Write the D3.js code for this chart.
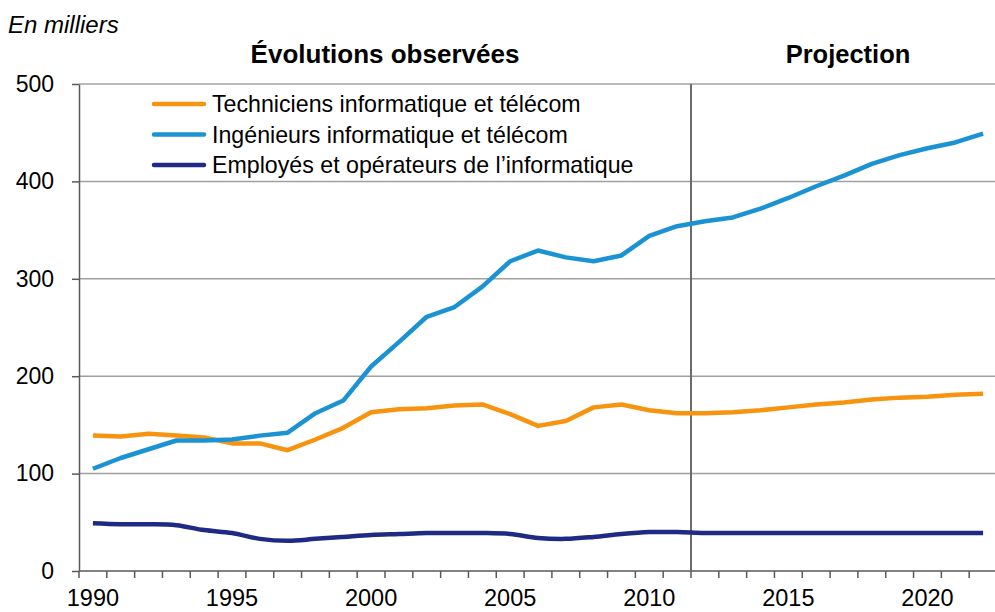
<!DOCTYPE html>
<html>
<head>
<meta charset="utf-8">
<script src="https://cdn.jsdelivr.net/npm/d3@7"></script>
<style>
  body { margin: 0; background: #ffffff; }
  text { font-family: "Liberation Sans", Arial, sans-serif; }
</style>
</head>
<body>
<script>

// years on the x axis (category axis, one slot per year)
var years = d3.range(1990, 2023)
var yearlabels = [1990, 1995, 2000, 2005, 2010, 2015, 2020]
var yticks = [0, 100, 200, 300, 400, 500]

// series, in milliers
var techniciens = [139, 138, 141, 139, 137, 131, 131, 124, 135, 147,
                   163, 166, 167, 170, 171, 161, 149, 154, 168, 171,
                   165, 162, 162, 163, 165, 168, 171, 173, 176, 178,
                   179, 181, 182]
var ingenieurs = [105, 116, 125, 134, 134, 135, 139, 142, 162, 175,
                  210, 235, 261, 271, 292, 318, 329, 322, 318, 324,
                  344, 354, 359, 363, 372, 383, 395, 406, 418, 427,
                  434, 440, 449]
var employes = [49, 48, 48, 47, 42, 39, 33, 31, 33, 35,
                37, 38, 39, 39, 39, 38, 34, 33, 35, 38,
                40, 40, 39, 39, 39, 39, 39, 39, 39, 39,
                39, 39, 39]

var seriesnames = ["Techniciens informatique et télécom", "Ingénieurs informatique et télécom", "Employés et opérateurs de l\u2019informatique"]
var seriescolors = ["#f7940f", "#1b93d3", "#1f2a85"]

// last observed year, projection starts after it
var lastobserved = 2011

window.onload = drawchart

function drawchart()
{
  var width = 995, height = 612
  var left = 79, right = 997, top = 84, bottom = 571

  var svg = d3.select("body").append("svg")
              .attr("width", width)
              .attr("height", height)

  var x = d3.scaleBand().domain(years).range([left, right]).padding(0)
  var y = d3.scaleLinear().domain([0, 500]).range([bottom, top])

  // gridlines
  svg.append("g").selectAll("line")
     .data(yticks.filter(function(d) { return d > 0 }))
     .enter().append("line")
     .attr("x1", left).attr("x2", right)
     .attr("y1", function(d) { return y(d) }).attr("y2", function(d) { return y(d) })
     .attr("stroke", "#a0a0a0").attr("stroke-width", 1.5)

  // y axis
  var yaxis = svg.append("g")
                 .attr("transform", "translate(" + left + ",0)")
                 .call(d3.axisLeft(y).tickValues(yticks).tickSize(7).tickPadding(8).tickSizeOuter(0))
  yaxis.select(".domain").attr("stroke", "#595959").attr("stroke-width", 1.5)
  yaxis.selectAll(".tick line").attr("stroke", "#595959").attr("stroke-width", 1.5)
  yaxis.selectAll(".tick text")
       .attr("font-size", "23px")
       .attr("fill", "#000")
       .style("font-family", "Liberation Sans, Arial, sans-serif")
       .attr("x", -25)

  // x axis : line + ticks between categories
  svg.append("line")
     .attr("x1", left).attr("x2", right)
     .attr("y1", bottom).attr("y2", bottom)
     .attr("stroke", "#595959").attr("stroke-width", 1.5)

  svg.append("g").selectAll("line")
     .data(years)
     .enter().append("line")
     .attr("x1", function(d) { return x(d) }).attr("x2", function(d) { return x(d) })
     .attr("y1", bottom).attr("y2", bottom + 7)
     .attr("stroke", "#595959").attr("stroke-width", 1.5)

  svg.append("g").selectAll("text")
     .data(yearlabels)
     .enter().append("text")
     .attr("x", function(d) { return x(d) + x.bandwidth() / 2 })
     .attr("y", 606)
     .attr("text-anchor", "middle")
     .attr("font-size", "23.5px")
     .text(function(d) { return d })

  // separator observed / projection
  var sep = x(lastobserved) + x.bandwidth()
  svg.append("line")
     .attr("x1", sep).attr("x2", sep)
     .attr("y1", top).attr("y2", bottom)
     .attr("stroke", "#6b6b6b").attr("stroke-width", 2)

  // headers
  svg.append("text")
     .attr("x", (left + sep) / 2).attr("y", 63)
     .attr("text-anchor", "middle")
     .attr("font-size", "26px").attr("font-weight", "bold")
     .text("Évolutions observées")

  svg.append("text")
     .attr("x", (sep + right) / 2 + 4).attr("y", 63)
     .attr("text-anchor", "middle")
     .attr("font-size", "25.5px").attr("font-weight", "bold")
     .text("Projection")

  svg.append("text")
     .attr("x", 8).attr("y", 33)
     .attr("font-size", "24px").attr("font-style", "italic")
     .text("En milliers")

  // lines
  var allseries = [techniciens, ingenieurs, employes]
  var curves = [d3.curveLinear, d3.curveLinear, d3.curveCatmullRom]
  allseries.forEach(function(values, i)
  {
    var line = d3.line()
                 .x(function(d, j) { return x(years[j]) + x.bandwidth() / 2 })
                 .y(function(d) { return y(d) })
                 .curve(curves[i])
    svg.append("path")
       .datum(values)
       .attr("d", line)
       .attr("fill", "none")
       .attr("stroke", seriescolors[i])
       .attr("stroke-width", 4.5)
       .attr("stroke-linejoin", "round")
  })

  // legend
  var legend = svg.append("g")
  seriesnames.forEach(function(name, i)
  {
    var ly = 104 + i * 30.5
    legend.append("line")
          .attr("x1", 154).attr("x2", 204)
          .attr("y1", ly).attr("y2", ly)
          .attr("stroke", seriescolors[i]).attr("stroke-width", 4.5)
          .attr("stroke-linecap", "round")
    legend.append("text")
          .attr("x", 212).attr("y", ly + 8)
          .attr("font-size", "23.2px")
          .text(name)
  })
}
</script>
</body>
</html>
